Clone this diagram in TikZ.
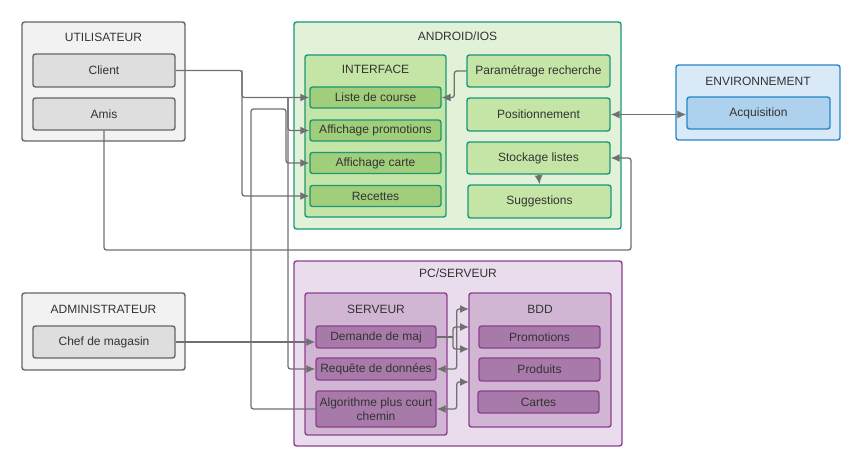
\documentclass[tikz,border=0pt]{standalone}
\usepackage{fontspec}
\setmainfont{Liberation Sans}
\usepackage{tikz}
\definecolor{gline}{RGB}{102, 102, 102}
\definecolor{gout}{RGB}{242, 242, 242}
\definecolor{gin}{RGB}{222, 222, 222}
\definecolor{vline}{RGB}{26, 150, 120}
\definecolor{vout}{RGB}{226, 242, 216}
\definecolor{vmid}{RGB}{197, 229, 166}
\definecolor{vin}{RGB}{160, 206, 122}
\definecolor{bline}{RGB}{36, 136, 200}
\definecolor{bout}{RGB}{218, 233, 247}
\definecolor{bin}{RGB}{174, 210, 238}
\definecolor{pline}{RGB}{140, 64, 144}
\definecolor{pout}{RGB}{233, 220, 236}
\definecolor{pmid}{RGB}{208, 182, 211}
\definecolor{pin}{RGB}{168, 122, 170}
\definecolor{wire}{RGB}{112, 112, 112}
\definecolor{txt}{RGB}{51, 51, 51}
\usetikzlibrary{arrows.meta}
\tikzset{
  box/.style={rectangle, rounded corners=2.5pt, line width=1.4pt, inner sep=0pt, text=txt, font=\fontsize{12}{13.5}\selectfont, align=center},
  title/.style={inner sep=0pt, text=txt, font=\fontsize{12}{13.5}\selectfont},
  link/.style={line width=1.3pt, draw=wire, rounded corners=2.5pt, -{Latex[length=9pt,width=8pt]}},
  dlink/.style={link, {Latex[length=9pt,width=8pt]}-{Latex[length=9pt,width=8pt]}},
  plain/.style={line width=1.3pt, draw=wire, rounded corners=2.5pt}
}

\begin{document}
\begin{tikzpicture}
\useasboundingbox (0pt, 0pt) rectangle (862pt, -468pt);
% outer blocks
\node (util) [box, fill=gout, draw=gline, minimum width=163pt, minimum height=119pt] at (103.5pt, -81.5pt) {};
\node (admin) [box, fill=gout, draw=gline, minimum width=163pt, minimum height=77pt] at (103.5pt, -331.5pt) {};
\node (android) [box, fill=vout, draw=vline, minimum width=327pt, minimum height=207pt] at (457.5pt, -125.5pt) {};
\node (env) [box, fill=bout, draw=bline, minimum width=164pt, minimum height=75pt] at (758pt, -102.5pt) {};
\node (pcserv) [box, fill=pout, draw=pline, minimum width=328pt, minimum height=185pt] at (458pt, -353.5pt) {};
\node (interface) [box, fill=vmid, draw=vline, minimum width=141pt, minimum height=162pt] at (375.5pt, -136pt) {};
\node (serveur) [box, fill=pmid, draw=pline, minimum width=142pt, minimum height=142pt] at (376pt, -364pt) {};
\node (bdd) [box, fill=pmid, draw=pline, minimum width=142pt, minimum height=134pt] at (540pt, -360pt) {};
% titles
\node (utilT) [title] at (103.5pt, -37pt) {UTILISATEUR};
\node (adminT) [title] at (103.5pt, -309pt) {ADMINISTRATEUR};
\node (androidT) [title] at (457.5pt, -36pt) {ANDROID/IOS};
\node (interfaceT) [title] at (375.5pt, -69pt) {INTERFACE};
\node (envT) [title] at (758pt, -81pt) {ENVIRONNEMENT};
\node (pcservT) [title] at (458pt, -273pt) {PC/SERVEUR};
\node (serveurT) [title] at (376pt, -309pt) {SERVEUR};
\node (bddT) [title] at (540pt, -309pt) {BDD};
% inner boxes
\node (client) [box, fill=gin, draw=gline, minimum width=142pt, minimum height=33pt] at (104pt, -70.5pt) {Client};
\node (amis) [box, fill=gin, draw=gline, minimum width=142pt, minimum height=32pt] at (104pt, -114pt) {Amis};
\node (chef) [box, fill=gin, draw=gline, minimum width=142pt, minimum height=32pt] at (104pt, -342pt) {Chef de magasin};
\node (liste) [box, fill=vin, draw=vline, minimum width=131pt, minimum height=21pt] at (375.5pt, -97.5pt) {Liste de course};
\node (affpromo) [box, fill=vin, draw=vline, minimum width=131pt, minimum height=21pt] at (375.5pt, -130.5pt) {Affichage promotions};
\node (affcarte) [box, fill=vin, draw=vline, minimum width=131pt, minimum height=21pt] at (375.5pt, -163pt) {Affichage carte};
\node (recettes) [box, fill=vin, draw=vline, minimum width=131pt, minimum height=21pt] at (375.5pt, -196pt) {Recettes};
\node (param) [box, fill=vmid, draw=vline, minimum width=143pt, minimum height=32pt] at (538.5pt, -71pt) {Paramétrage recherche};
\node (position) [box, fill=vmid, draw=vline, minimum width=143pt, minimum height=33pt] at (538.5pt, -114.5pt) {Positionnement};
\node (stockage) [box, fill=vmid, draw=vline, minimum width=143pt, minimum height=32pt] at (538.5pt, -158pt) {Stockage listes};
\node (suggest) [box, fill=vmid, draw=vline, minimum width=143pt, minimum height=33pt] at (539.5pt, -201.5pt) {Suggestions};
\node (acq) [box, fill=bin, draw=bline, minimum width=143pt, minimum height=32pt] at (758.5pt, -113pt) {Acquisition};
\node (demande) [box, fill=pin, draw=pline, minimum width=120pt, minimum height=22pt] at (376pt, -337pt) {Demande de maj};
\node (requete) [box, fill=pin, draw=pline, minimum width=120pt, minimum height=22pt] at (376pt, -369pt) {Requête de données};
\node (algo) [box, fill=pin, draw=pline, minimum width=120pt, minimum height=36pt] at (376pt, -409pt) {Algorithme plus court\\chemin};
\node (promos) [box, fill=pin, draw=pline, minimum width=121pt, minimum height=22pt] at (539.5pt, -337pt) {Promotions};
\node (produits) [box, fill=pin, draw=pline, minimum width=121pt, minimum height=23pt] at (539.5pt, -369.5pt) {Produits};
\node (cartes) [box, fill=pin, draw=pline, minimum width=121pt, minimum height=22pt] at (538.5pt, -402pt) {Cartes};
% junctions
\coordinate (cj) at (242pt, -70.5pt);
\coordinate (rj) at (288pt, -97.5pt);
\coordinate (al) at (251pt, -109pt);
\coordinate (ar) at (286pt, -109pt);
\coordinate (am) at (631pt, -250pt);
\coordinate (dj) at (453pt, -337pt);
\coordinate (bd0) at (469pt, -309pt);
\coordinate (bd1) at (469pt, -327pt);
\coordinate (bd2) at (469pt, -349pt);
\coordinate (bd3) at (469pt, -382pt);
% links
\draw [link] (client.east) -- (cj) |- (liste.west);
\draw [link] (cj) |- (recettes.west);
\draw [link] (rj) |- (affpromo.west);
\draw [link] (rj) |- (requete.west);
\draw [link] (algo.west) -| (al) -- (ar) |- (affcarte.west);
\draw [link] (amis.south) |- (am) |- (stockage.east);
\draw [link] (param.west) -- ++(-12pt, 0pt) |- (liste.east);
\draw [dlink] (position.east) -- (position.east -| acq.west);
\draw [link] (stockage.south) -- (suggest.north);
\draw [link] (chef.east) -- (chef.east -| demande.west);
\draw [plain] (demande.east) -- (dj);
\draw [link] (dj) |- (bd1);
\draw [link] (dj) |- (bd2);
\draw [dlink] (requete.east) -- ++(20pt, 0pt) |- (bd0);
\draw [dlink] (algo.east) -- ++(20pt, 0pt) |- (bd3);
\end{tikzpicture}
\end{document}
